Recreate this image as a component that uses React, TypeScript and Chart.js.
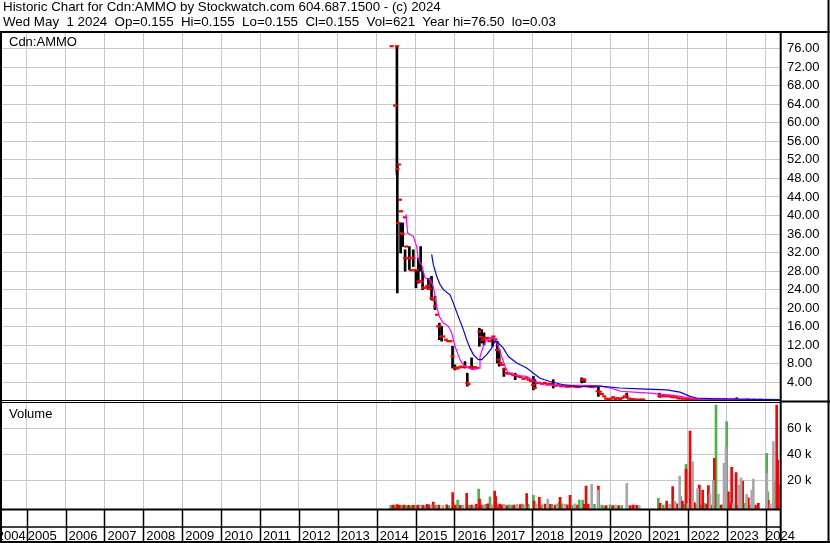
import React, { useEffect, useRef } from 'react';
import { Chart, registerables } from 'chart.js';

Chart.register(...registerables);

// ---------- data ----------
const titleLine1 = 'Historic Chart for Cdn:AMMO by Stockwatch.com 604.687.1500 - (c) 2024';
const titleLine2 = 'Wed May  1 2024  Op=0.155  Hi=0.155  Lo=0.155  Cl=0.155  Vol=621  Year hi=76.50  lo=0.03';
const priceLabel = 'Cdn:AMMO';
const volumeLabel = 'Volume';

const gridYears = [2005, 2006, 2007, 2008, 2009, 2010, 2011, 2012, 2013, 2014, 2015, 2016, 2017, 2018, 2019, 2020, 2021, 2022, 2023, 2024];
const labelYears = [2004, 2005, 2006, 2007, 2008, 2009, 2010, 2011, 2012, 2013, 2014, 2015, 2016, 2017, 2018, 2019, 2020, 2021, 2022, 2023, 2024];
const priceTicks = [4, 8, 12, 16, 20, 24, 28, 32, 36, 40, 44, 48, 52, 56, 60, 64, 68, 72, 76];
const volumeTicks = [20, 40, 60];

// daily closes (red marks)
const closeDates = [
  2014.385, 2014.47, 2014.52, 2014.53, 2014.55, 2014.57, 2014.6, 2014.615, 2014.625, 2014.668,
  2014.725, 2014.73, 2014.76, 2014.8, 2014.84, 2014.88, 2014.94, 2014.98, 2015.02, 2015.07,
  2015.12, 2015.16, 2015.19, 2015.24, 2015.3, 2015.35, 2015.41, 2015.46, 2015.5, 2015.55,
  2015.58, 2015.62, 2015.66, 2015.71, 2015.78, 2015.84, 2015.9, 2015.95, 2016.01, 2016.06,
  2016.11, 2016.16, 2016.22, 2016.27, 2016.33, 2016.36, 2016.4, 2016.46, 2016.52, 2016.58,
  2016.64, 2016.68, 2016.73, 2016.78, 2016.84, 2016.9, 2016.95, 2017.0, 2017.05, 2017.09,
  2017.13, 2017.18, 2017.23, 2017.28, 2017.33, 2017.39, 2017.45, 2017.51, 2017.57, 2017.63,
  2017.7, 2017.77, 2017.84, 2017.91, 2017.97, 2018.02, 2018.06, 2018.12, 2018.18, 2018.25,
  2018.32, 2018.39, 2018.46, 2018.53, 2018.6, 2018.67, 2018.74, 2018.81, 2018.88, 2018.95,
  2019.02, 2019.09, 2019.16, 2019.23, 2019.28, 2019.34, 2019.4, 2019.47, 2019.54, 2019.61,
  2019.68, 2019.74, 2019.79, 2019.85, 2019.9, 2019.96, 2020.02, 2020.08, 2020.14, 2020.2,
  2020.26, 2020.32, 2020.38, 2020.43, 2020.49, 2020.55, 2020.62, 2020.7, 2020.78, 2020.85,
  2021.27, 2021.33, 2021.39, 2021.45, 2021.51, 2021.57, 2021.63, 2021.69, 2021.75, 2021.81,
  2021.88, 2021.95, 2022.02, 2022.1, 2022.18, 2022.26, 2022.34, 2022.42, 2022.5, 2022.58,
  2022.66, 2022.74, 2022.82, 2022.9, 2022.98, 2023.06, 2023.14, 2023.22, 2023.3, 2023.38,
  2023.46, 2023.54, 2023.62, 2023.7, 2023.78, 2023.86, 2023.94, 2024.02, 2024.1, 2024.18,
  2024.26, 2024.33,
];
const closeValues = [
  76.5, 63.7, 76.5, 50.0, 38.4, 51.0, 43.4, 36.2, 40.9, 36.0,
  39.6, 30.8, 33.3, 30.8, 30.8, 28.2, 30.8, 28.2, 28.2, 25.8,
  25.8, 25.8, 24.4, 24.4, 24.8, 24.2, 22.2, 21.8, 20.4, 18.6,
  16.1, 16.1, 13.9, 13.9, 13.2, 12.9, 12.9, 9.6, 7.2, 7.0,
  7.2, 7.4, 7.3, 7.4, 3.9, 3.6, 7.3, 7.0, 7.3, 7.1,
  15.0, 13.8, 13.2, 13.5, 13.6, 12.9, 13.5, 13.9, 13.3, 11.0,
  8.9, 8.2, 7.8, 6.8, 6.0, 5.9, 5.9, 5.6, 5.6, 5.3,
  5.2, 4.8, 4.9, 4.6, 4.3, 3.5, 2.8, 3.9, 3.9, 3.7,
  3.9, 3.6, 3.7, 3.5, 3.3, 3.4, 3.2, 3.3, 3.1, 3.1,
  3.2, 3.1, 3.0, 3.1, 4.6, 4.5, 3.2, 3.1, 3.0, 3.1,
  2.1, 2.0, 1.5, 1.0, 0.5, 0.4, 0.5, 0.8, 0.45, 0.6,
  0.4, 0.7, 1.0, 1.0, 0.5, 0.4, 0.35, 0.3, 0.3, 0.3,
  1.1, 1.0, 1.1, 1.0, 1.1, 0.9, 0.8, 0.9, 0.6, 0.55,
  0.5, 0.45, 0.4, 0.35, 0.4, 0.3, 0.35, 0.3, 0.3, 0.25,
  0.3, 0.3, 0.25, 0.35, 0.3, 0.25, 0.3, 0.3, 0.25, 0.2,
  0.25, 0.3, 0.2, 0.25, 0.2, 0.25, 0.2, 0.15, 0.2, 0.2,
  0.16, 0.155,
];

// daily high-low ranges (black bars)
const rangeDates = [
  2014.52, 2014.53, 2014.615, 2014.668, 2014.73, 2014.84, 2014.94, 2015.01, 2015.07, 2015.13,
  2015.18, 2015.33, 2015.41, 2015.5, 2015.61, 2015.67, 2015.95, 2016.01, 2016.27, 2016.33,
  2016.44, 2016.64, 2016.7, 2016.76, 2016.98, 2017.1, 2017.15, 2017.27, 2017.56, 2018.03,
  2018.07, 2018.54, 2019.27, 2019.34, 2019.7, 2020.43, 2021.27, 2023.26,
];
const rangeHigh = [
  76.6, 51.2, 38.4, 38.4, 32.6, 33.3, 32.6, 28.3, 30.8, 33.3,
  28.0, 26.5, 26.9, 22.6, 16.8, 16.1, 11.8, 7.8, 8.5, 6.0,
  9.3, 15.7, 15.4, 14.7, 13.6, 12.9, 11.1, 7.1, 6.0, 5.3,
  4.6, 4.6, 5.0, 4.8, 3.1, 1.7, 1.7, 0.7,
];
const rangeLow = [
  48.8, 23.3, 31.9, 33.3, 28.0, 28.3, 29.0, 24.4, 25.4, 28.0,
  24.0, 24.0, 21.8, 19.7, 13.2, 12.9, 7.1, 6.7, 7.1, 3.2,
  7.1, 11.8, 12.5, 12.1, 11.8, 8.2, 7.5, 5.3, 4.6, 2.4,
  2.8, 2.8, 3.9, 4.0, 1.0, 0.6, 0.8, 0.2,
];

// short moving average (magenta)
const maShortDates = [
  2014.753, 2014.796, 2014.87, 2014.942, 2015.028, 2015.071, 2015.156, 2015.242, 2015.371, 2015.456,
  2015.499, 2015.542, 2015.611, 2015.714, 2015.842, 2015.928, 2016.014, 2016.142, 2016.228, 2016.356,
  2016.485, 2016.631, 2016.656, 2016.742, 2016.828, 2016.956, 2017.042, 2017.128, 2017.213, 2017.299,
  2017.385, 2017.6, 2017.856, 2018.0, 2018.113, 2018.285, 2018.542, 2018.885, 2019.228, 2019.5,
  2019.75, 2020.0, 2020.17, 2020.26, 2020.6, 2021.03, 2021.28, 2021.5, 2021.8, 2022.06,
  2022.2, 2022.6, 2023.0, 2023.5, 2024.0, 2024.33,
];
const maShortValues = [
  40.3, 36.2, 35.8, 35.5, 33.3, 30.5, 29.4, 26.5, 26.2, 24.7,
  22.6, 20.4, 18.2, 16.8, 16.1, 14.7, 11.8, 8.9, 7.8, 7.1,
  6.75, 7.1, 9.6, 11.8, 13.2, 13.6, 13.2, 11.8, 9.6, 7.5,
  6.0, 5.5, 5.3, 4.6, 4.0, 3.5, 3.4, 3.4, 3.4, 3.3,
  3.2, 2.8, 2.4, 2.1, 1.9, 1.7, 1.5, 1.3, 1.0, 0.7,
  0.45, 0.4, 0.35, 0.3, 0.3, 0.25,
];

// long moving average (blue)
const maLongDates = [
  2015.413, 2015.456, 2015.542, 2015.628, 2015.714, 2015.885, 2015.971, 2016.099, 2016.228, 2016.313,
  2016.399, 2016.485, 2016.613, 2016.699, 2016.828, 2016.956, 2017.042, 2017.128, 2017.256, 2017.385,
  2017.6, 2017.856, 2018.028, 2018.199, 2018.456, 2018.799, 2019.228, 2019.656, 2019.742, 2020.256,
  2020.77, 2021.456, 2021.8, 2022.056, 2022.228, 2022.6, 2023.17, 2023.8, 2024.37,
];
const maLongValues = [
  31.6, 29.4, 26.9, 25.1, 24.0, 22.9, 21.1, 18.2, 15.4, 13.2,
  11.4, 10.0, 8.9, 8.9, 10.0, 11.4, 12.9, 12.5, 11.4, 9.6,
  8.2, 7.1, 6.0, 4.9, 4.2, 3.5, 3.1, 3.2, 3.2, 2.8,
  2.6, 2.4, 1.9, 1.0, 0.65, 0.5, 0.43, 0.35, 0.28,
];

// volume in thousands; colour: r = down, g = up, n = unchanged
const volDates = [
  2014.36, 2014.42, 2014.48, 2014.53, 2014.58, 2014.64, 2014.7, 2014.76, 2014.82, 2014.88,
  2014.94, 2015.0, 2015.06, 2015.12, 2015.18, 2015.24, 2015.3, 2015.354, 2015.4, 2015.456,
  2015.52, 2015.6, 2015.7, 2015.8, 2015.86, 2015.953, 2015.97, 2016.02, 2016.082, 2016.15,
  2016.22, 2016.313, 2016.37, 2016.44, 2016.5, 2016.56, 2016.622, 2016.645, 2016.7, 2016.75,
  2016.81, 2016.86, 2016.913, 2016.96, 2017.033, 2017.059, 2017.102, 2017.16, 2017.21, 2017.28,
  2017.34, 2017.4, 2017.47, 2017.53, 2017.6, 2017.685, 2017.75, 2017.81, 2017.856, 2017.9,
  2018.028, 2018.045, 2018.1, 2018.182, 2018.24, 2018.328, 2018.4, 2018.45, 2018.5, 2018.585,
  2018.64, 2018.696, 2018.713, 2018.76, 2018.84, 2018.9, 2018.97, 2019.03, 2019.1, 2019.15,
  2019.21, 2019.296, 2019.34, 2019.382, 2019.44, 2019.528, 2019.6, 2019.69, 2019.7, 2019.785,
  2019.83, 2019.9, 2020.0, 2020.07, 2020.14, 2020.22, 2020.3, 2020.43, 2020.44, 2020.52,
  2020.6, 2020.685, 2020.75, 2021.242, 2021.285, 2021.37, 2021.456, 2021.53, 2021.61, 2021.67,
  2021.72, 2021.79, 2021.815, 2021.86, 2021.9, 2021.953, 2021.955, 2022.0, 2022.056, 2022.1,
  2022.125, 2022.168, 2022.21, 2022.253, 2022.296, 2022.34, 2022.382, 2022.442, 2022.49, 2022.528,
  2022.57, 2022.62, 2022.656, 2022.682, 2022.725, 2022.785, 2022.845, 2022.88, 2022.93, 2022.982,
  2022.999, 2023.042, 2023.08, 2023.11, 2023.127, 2023.17, 2023.24, 2023.29, 2023.325, 2023.368,
  2023.41, 2023.453, 2023.513, 2023.556, 2023.6, 2023.642, 2023.685, 2023.74, 2023.813, 2024.028,
  2024.03, 2024.053, 2024.07, 2024.12, 2024.2, 2024.216, 2024.285, 2024.31, 2024.335,
];
const volValues = [
  0.8, 1.0, 0.9, 1.4, 0.8, 0.7, 0.9, 0.6, 0.8, 0.6,
  0.7, 0.5, 0.9, 0.6, 0.8, 0.5, 1.5, 1.0, 1.2, 3.3,
  0.8, 1.0, 0.8, 1.2, 0.6, 10.5, 2.3, 1.0, 4.8, 0.8,
  1.0, 10.0, 1.0, 1.0, 0.8, 1.5, 13.3, 5.6, 1.0, 1.2,
  1.5, 2.0, 7.2, 1.2, 11.8, 7.4, 1.0, 1.5, 1.2, 1.5,
  0.5, 1.2, 1.0, 1.0, 1.5, 1.3, 1.8, 1.0, 9.7, 1.5,
  8.4, 4.1, 1.5, 6.9, 1.2, 1.8, 5.6, 1.5, 1.5, 1.0,
  1.8, 3.0, 6.9, 2.0, 1.8, 1.2, 8.4, 1.0, 2.0, 1.0,
  4.8, 4.8, 1.5, 15.6, 1.5, 16.9, 1.5, 12.5, 15.6, 1.0,
  0.4, 0.5, 1.2, 0.6, 1.0, 0.5, 0.6, 17.7, 1.0, 0.5,
  1.0, 0.8, 0.5, 6.1, 2.3, 1.0, 4.1, 1.5, 15.1, 4.0,
  2.0, 23.3, 7.4, 4.0, 1.5, 32.3, 28.7, 2.0, 57.9, 17.7,
  34.3, 2.8, 1.5, 13.8, 16.4, 1.0, 12.5, 2.3, 1.5, 15.9,
  9.4, 1.0, 19.7, 36.9, 77.9, 9.4, 1.0, 1.2, 33.0, 45.9,
  65.1, 11.2, 1.5, 2.3, 30.0, 2.3, 25.9, 1.0, 16.4, 22.0,
  19.4, 2.3, 9.2, 6.6, 1.0, 12.5, 21.0, 1.0, 2.3, 40.7,
  25.3, 11.2, 4.8, 1.5, 49.7, 18.9, 77.9, 35.6, 16.4,
];
const volColors = [
  'g', 'r', 'g', 'r', 'r', 'g', 'r', 'g', 'r', 'g',
  'r', 'g', 'r', 'n', 'r', 'g', 'r', 'r', 'n', 'r',
  'g', 'r', 'n', 'r', 'g', 'r', 'g', 'r', 'g', 'r',
  'n', 'r', 'g', 'r', 'n', 'r', 'g', 'r', 'r', 'n',
  'g', 'r', 'g', 'n', 'r', 'r', 'g', 'r', 'r', 'n',
  'r', 'g', 'g', 'r', 'n', 'r', 'g', 'n', 'r', 'g',
  'g', 'r', 'n', 'r', 'g', 'r', 'n', 'r', 'g', 'r',
  'n', 'g', 'r', 'g', 'n', 'r', 'r', 'g', 'n', 'r',
  'g', 'g', 'r', 'r', 'r', 'n', 'g', 'n', 'r', 'g',
  'g', 'r', 'g', 'r', 'n', 'r', 'g', 'n', 'g', 'r',
  'r', 'r', 'n', 'g', 'r', 'g', 'r', 'n', 'r', 'n',
  'r', 'n', 'g', 'r', 'g', 'g', 'r', 'n', 'r', 'g',
  'n', 'r', 'g', 'n', 'r', 'g', 'r', 'g', 'r', 'r',
  'n', 'r', 'n', 'r', 'g', 'n', 'r', 'g', 'n', 'n',
  'g', 'r', 'g', 'r', 'r', 'n', 'r', 'g', 'n', 'n',
  'r', 'g', 'n', 'r', 'g', 'n', 'n', 'r', 'r', 'g',
  'n', 'g', 'r', 'n', 'n', 'g', 'r', 'r', 'g',
];

// ---------- layout constants ----------
const X_MIN = 2004.365;
const X_MAX = 2024.396;
const PRICE_MIN = 0;
const PRICE_MAX = 79.35;
const VOL_MIN = -2.3;
const VOL_MAX = 81.0;
const FONT = 'Arial, "Liberation Sans", sans-serif';

const framePlugin = {
  id: 'stockwatchFrame',
  afterDraw(chart: any) {
    const { ctx, chartArea: ca, width: W, height: H } = chart;
    const xs = chart.scales.x;
    const seg = (x1: number, y1: number, x2: number, y2: number, w: number) => {
      ctx.lineWidth = w;
      ctx.beginPath();
      ctx.moveTo(x1, y1);
      ctx.lineTo(x2, y2);
      ctx.stroke();
    };
    ctx.save();
    ctx.fillStyle = '#000';
    ctx.font = '13px ' + FONT;
    ctx.textBaseline = 'alphabetic';
    labelYears.forEach((yr, i) => {
      if (i === 0) {
        ctx.textAlign = 'right';
        ctx.fillText(String(yr), xs.getPixelForValue(yr + 1) - 1, H - 3.5);
      } else {
        const off = i === 1 ? 1 : i === labelYears.length - 1 ? 0.5 : 3;
        ctx.textAlign = 'left';
        ctx.fillText(String(yr), xs.getPixelForValue(yr) + off, H - 3.5);
      }
    });
    ctx.strokeStyle = '#000';
    gridYears.forEach((yr) => {
      const px = Math.round(xs.getPixelForValue(yr)) + 0.5;
      seg(px, ca.bottom, px, H, 1.5);
    });
    seg(0, 527, ca.right, 527, 1.5);
    seg(0, ca.bottom + 0.3, ca.right, ca.bottom + 0.3, 2);
    const split = chart.scales.y.bottom;
    seg(0, split - 0.5, ca.right, split - 0.5, 1);
    seg(0, split + 1.5, ca.right, split + 1.5, 1);
    seg(ca.right, split + 0.5, W, split + 0.5, 2);
    seg(0, ca.top - 1, W, ca.top - 1, 2);
    seg(1, ca.top - 1, 1, H, 2);
    seg(W - 1.5, 0, W - 1.5, H, 2);
    seg(0, H - 1, W, H - 1, 2);
    seg(ca.right - 0.3, ca.top - 1, ca.right - 0.3, H, 2);
    ctx.restore();
  },
};

export default function App() {
  const canvasRef = useRef<HTMLCanvasElement>(null);

  useEffect(() => {
    const canvas = canvasRef.current;
    if (!canvas) return;

    const closeData = closeDates.map((d, i) => ({ x: d, y: closeValues[i] }));
    const rangeData = rangeDates.map((d, i) => ({ x: d, y: [rangeLow[i], rangeHigh[i]] }));
    const shortData = maShortDates.map((d, i) => ({ x: d, y: maShortValues[i] }));
    const longData = maLongDates.map((d, i) => ({ x: d, y: maLongValues[i] }));
    const volFor = (c: string) =>
      volDates
        .map((d, i) => ({ x: d, y: volValues[i], c: volColors[i] }))
        .filter((p) => p.c === c)
        .map((p) => ({ x: p.x, y: p.y }));

    const volBar = (data: any[], color: string, order: number) => ({
      type: 'bar' as const,
      data,
      backgroundColor: color,
      borderWidth: 0,
      barThickness: 2,
      grouped: false,
      base: VOL_MIN,
      xAxisID: 'x',
      yAxisID: 'yv',
      order,
    });

    const chart = new Chart(canvas, {
      type: 'bar',
      data: {
        datasets: [
          { type: 'line', data: longData, borderColor: '#0000ff', borderWidth: 1.2, pointRadius: 0, tension: 0, xAxisID: 'x', yAxisID: 'y', order: 1 } as any,
          { type: 'line', data: shortData, borderColor: '#ff00ff', borderWidth: 1.2, pointRadius: 0, tension: 0, xAxisID: 'x', yAxisID: 'y', order: 2 } as any,
          {
            type: 'line',
            data: closeData,
            showLine: false,
            pointStyle: 'line',
            pointRadius: 2,
            pointBorderWidth: 2.2,
            pointBorderColor: '#ff0000',
            pointBackgroundColor: '#ff0000',
            borderColor: '#ff0000',
            xAxisID: 'x',
            yAxisID: 'y',
            order: 3,
          } as any,
          { type: 'bar', data: rangeData, backgroundColor: '#000000', borderWidth: 0, barThickness: 2, grouped: false, xAxisID: 'x', yAxisID: 'y', order: 4 } as any,
          volBar(volFor('n'), '#a8a8a8', 5) as any,
          volBar(volFor('r'), '#ff0000', 6) as any,
          volBar(volFor('g'), '#4cb44c', 7) as any,
        ],
      },
      options: {
        animation: false,
        responsive: false,
        maintainAspectRatio: false,
        events: [],
        layout: { autoPadding: false, padding: { top: 33, left: 2, right: 0, bottom: 0 } },
        plugins: { legend: { display: false }, tooltip: { enabled: false }, title: { display: false } },
        scales: {
          x: {
            type: 'linear',
            min: X_MIN,
            max: X_MAX,
            offset: false,
            grid: { color: '#c8c8c8', lineWidth: 1, drawTicks: false, offset: false },
            border: { display: false },
            ticks: { display: false },
            afterBuildTicks: (s: any) => {
              s.ticks = gridYears.map((v) => ({ value: v }));
            },
            afterFit: (s: any) => {
              s.height = 33.7;
            },
          },
          y: {
            type: 'linear',
            position: 'right',
            stack: 'panels',
            stackWeight: 368,
            min: PRICE_MIN,
            max: PRICE_MAX,
            grid: { color: '#c8c8c8', lineWidth: 1, drawTicks: false },
            border: { display: false },
            ticks: { color: '#000', font: { family: FONT, size: 13 }, padding: 6, autoSkip: false, callback: (v: any) => Number(v).toFixed(2) },
            afterBuildTicks: (s: any) => {
              s.ticks = priceTicks.map((v) => ({ value: v }));
            },
            afterFit: (s: any) => {
              s.width = 49;
            },
          },
          yv: {
            type: 'linear',
            position: 'right',
            stack: 'panels',
            stackWeight: 108.3,
            min: VOL_MIN,
            max: VOL_MAX,
            grid: { color: '#c8c8c8', lineWidth: 1, drawTicks: false },
            border: { display: false },
            ticks: { color: '#000', font: { family: FONT, size: 13 }, padding: 6, autoSkip: false, callback: (v: any) => `${v} k` },
            afterBuildTicks: (s: any) => {
              s.ticks = volumeTicks.map((v) => ({ value: v }));
            },
            afterFit: (s: any) => {
              s.width = 49;
            },
          },
        } as any,
      },
      plugins: [framePlugin],
    } as any);

    return () => chart.destroy();
  }, []);

  const textStyle: React.CSSProperties = {
    position: 'absolute',
    fontFamily: FONT,
    fontSize: 13,
    lineHeight: '15px',
    color: '#000',
    whiteSpace: 'pre',
    margin: 0,
  };

  return (
    <div style={{ position: 'fixed', left: 0, top: 0, width: 830, height: 543, background: '#fff', overflow: 'hidden' }}>
      <canvas ref={canvasRef} width={830} height={543} style={{ position: 'absolute', left: 0, top: 0, width: 830, height: 543 }} />
      <div style={{ ...textStyle, fontSize: 13.33, left: 3, top: -1 }}>{titleLine1}</div>
      <div style={{ ...textStyle, fontSize: 13.33, left: 3, top: 14 }}>{titleLine2}</div>
      <div style={{ ...textStyle, left: 9, top: 34 }}>{priceLabel}</div>
      <div style={{ ...textStyle, left: 9, top: 406 }}>{volumeLabel}</div>
    </div>
  );
}
